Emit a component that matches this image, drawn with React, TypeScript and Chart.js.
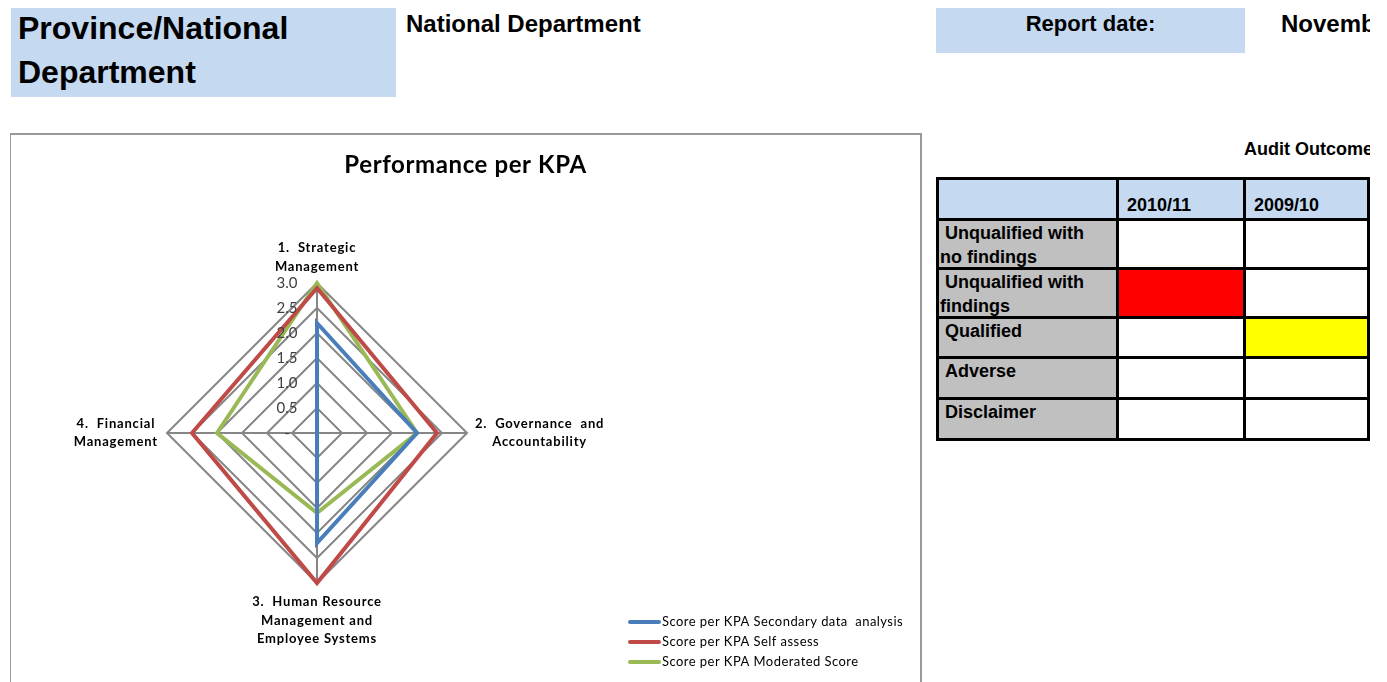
import React, { useEffect, useRef } from "react";
import { Chart, registerables } from "chart.js";

Chart.register(...registerables);

// ---------- data ----------
const chartTitle = "Performance per KPA";
const kpaLabels: string[][] = [
  ["1.  Strategic", "Management"],
  ["2.  Governance  and", "Accountability"],
  ["3.  Human Resource", "Management and", "Employee Systems"],
  ["4.  Financial", "Management"],
];
const secondaryScores = [2.2, 2.0, 2.2, 0];
const selfAssessScores = [2.9, 2.4, 3.0, 2.5];
const moderatedScores = [3.0, 2.0, 1.6, 2.0];
const seriesNames = [
  "Score per KPA Secondary data  analysis",
  "Score per KPA Self assess",
  "Score per KPA Moderated Score",
];
const seriesColors = ["#4a7ebb", "#be4b48", "#98b954"];
const scaleMin = 0;
const scaleMax = 3;
const scaleStep = 0.5;

const auditOutcomes = [
  ["\u00a0Unqualified with", "no findings"],
  ["\u00a0Unqualified with", "findings"],
  ["\u00a0Qualified"],
  ["\u00a0Adverse"],
  ["\u00a0Disclaimer"],
];
const auditYears = ["2010/11", "2009/10"];
const audit2010Colors = ["#ffffff", "#ff0000", "#ffffff", "#ffffff", "#ffffff"];
const audit2009Colors = ["#ffffff", "#ffffff", "#ffff00", "#ffffff", "#ffffff"];

const tickFormat = (v: number) => (v === 0 ? "-" : v.toFixed(1));

const CHART_FONT = "Lato, 'Open Sans', sans-serif";

const setSpacing = (ctx: any, px: number) => {
  if ("letterSpacing" in ctx) ctx.letterSpacing = px + "px";
};

const decorPlugin = {
  id: "excelDecor",
  afterDraw(chart: any) {
    const ctx = chart.ctx as CanvasRenderingContext2D;
    const r = chart.scales.r;
    ctx.save();
    // title
    ctx.fillStyle = "#000000";
    ctx.font = `bold 24px ${CHART_FONT}`;
    setSpacing(ctx, 0.6);
    ctx.textAlign = "center";
    ctx.textBaseline = "middle";
    ctx.fillText(chartTitle, chart.width / 2, 30);

    // tick labels
    ctx.font = `15px ${CHART_FONT}`;
    setSpacing(ctx, 0);
    ctx.fillStyle = "#404040";
    r.ticks.forEach((t: any) => {
      const p = r.getPointPositionForValue(0, t.value);
      ctx.fillText(tickFormat(t.value), r.xCenter - 30, p.y);
    });

    // point labels
    ctx.font = `bold 13px ${CHART_FONT}`;
    setSpacing(ctx, 0.8);
    ctx.fillStyle = "#000000";
    const lh = 18.5;
    kpaLabels.forEach((lines, i) => {
      const n = lines.length;
      const maxW = Math.max(...lines.map((l) => ctx.measureText(l).width));
      if (i === 0) {
        const p = r.getPointPosition(i, r.drawingArea + 7);
        lines.forEach((l, k) => ctx.fillText(l, p.x, p.y - (n - 1 - k) * lh - lh / 2));
      } else if (i === 1) {
        const p = r.getPointPosition(i, r.drawingArea + 8);
        lines.forEach((l, k) => ctx.fillText(l, p.x + maxW / 2, p.y - ((n - 1) * lh) / 2 + k * lh));
      } else if (i === 2) {
        const p = r.getPointPosition(i, r.drawingArea + 10);
        lines.forEach((l, k) => ctx.fillText(l, p.x, p.y + lh / 2 + k * lh));
      } else {
        const p = r.getPointPosition(i, r.drawingArea + 9);
        lines.forEach((l, k) => ctx.fillText(l, p.x - maxW / 2, p.y - ((n - 1) * lh) / 2 + k * lh));
      }
    });

    // legend
    ctx.font = `13px ${CHART_FONT}`;
    setSpacing(ctx, 0.45);
    ctx.textAlign = "left";
    chart.data.datasets.forEach((ds: any, i: number) => {
      const y = 487 + i * 20;
      ctx.strokeStyle = ds.borderColor;
      ctx.lineWidth = 4;
      ctx.lineCap = "round";
      ctx.beginPath();
      ctx.moveTo(619, y);
      ctx.lineTo(648, y);
      ctx.stroke();
      ctx.fillStyle = "#000000";
      ctx.fillText(ds.label, 651, y);
    });
    ctx.restore();
  },
};

function RadarChart() {
  const ref = useRef<HTMLCanvasElement | null>(null);
  useEffect(() => {
    if (!ref.current) return;
    const chart = new Chart(ref.current, {
      type: "radar",
      data: {
        labels: kpaLabels,
        datasets: [
          { label: seriesNames[0], data: secondaryScores, borderColor: seriesColors[0] },
          { label: seriesNames[1], data: selfAssessScores, borderColor: seriesColors[1] },
          { label: seriesNames[2], data: moderatedScores, borderColor: seriesColors[2] },
        ].map((d) => ({
          ...d,
          fill: false,
          borderWidth: 4,
          borderJoinStyle: "miter" as const,
          pointRadius: 0,
          pointHoverRadius: 0,
          tension: 0,
        })),
      },
      options: {
        responsive: false,
        animation: false,
        layout: { padding: { left: 156, top: 148, right: 453, bottom: 99 } },
        plugins: { legend: { display: false }, title: { display: false }, tooltip: { enabled: false } },
        scales: {
          r: {
            min: scaleMin,
            max: scaleMax,
            ticks: { stepSize: scaleStep, display: false, callback: (v: any) => tickFormat(Number(v)) },
            pointLabels: { display: false },
            grid: { color: "#868686", lineWidth: 2, circular: false },
            angleLines: { color: "#868686", lineWidth: 2 },
          },
        },
      },
      plugins: [decorPlugin],
    });
    return () => chart.destroy();
  }, []);
  return <canvas ref={ref} width={909} height={547} style={{ position: "absolute", left: 11, top: 135, width: 909, height: 547 }} />;
}

const ARIAL = "'Liberation Sans', Arial, sans-serif";

export default function App() {
  const rowHeights = [38, 46, 46, 37, 38, 38];
  return (
    <div style={{ position: "fixed", left: 0, top: 0, width: 1370, height: 682, overflow: "hidden", background: "#fff", fontFamily: ARIAL, color: "#000" }}>
      <div style={{ position: "absolute", left: 11, top: 8, width: 385, height: 89, background: "#c5d9f1" }} />
      <div style={{ position: "absolute", left: 18, top: 6, fontSize: 32, fontWeight: "bold", lineHeight: "44px", whiteSpace: "nowrap" }}>
        Province/National<br />Department
      </div>
      <div style={{ position: "absolute", left: 406, top: 10, fontSize: 24, fontWeight: "bold", lineHeight: "28px", whiteSpace: "nowrap" }}>National Department</div>
      <div style={{ position: "absolute", left: 936, top: 8, width: 309, height: 45, background: "#c5d9f1", textAlign: "center", fontSize: 22, fontWeight: "bold", lineHeight: "32px" }}>Report date:</div>
      <div style={{ position: "absolute", left: 1281, top: 10, fontSize: 24, fontWeight: "bold", lineHeight: "28px", whiteSpace: "nowrap" }}>November 2011</div>

      <div style={{ position: "absolute", left: 10, top: 133, width: 912, height: 600, boxSizing: "border-box", borderTop: "2px solid #9a9a9a", borderLeft: "1px solid #9a9a9a", borderRight: "2px solid #9a9a9a" }} />
      <RadarChart />

      <div style={{ position: "absolute", left: 1244, top: 138, fontSize: 18, fontWeight: "bold", lineHeight: "22px", whiteSpace: "nowrap" }}>Audit Outcomes</div>
      <div
        style={{
          position: "absolute",
          left: 936,
          top: 177,
          width: 434,
          height: 264,
          boxSizing: "border-box",
          background: "#000",
          padding: 3,
          display: "grid",
          gridTemplateColumns: "177px 124px 121px",
          gridTemplateRows: rowHeights.map((h) => h + "px").join(" "),
          gap: 3,
          fontSize: 18,
          fontWeight: "bold",
          lineHeight: "24px",
        }}
      >
        <div style={{ background: "#c5d9f1" }} />
        {auditYears.map((y) => (
          <div key={y} style={{ background: "#c5d9f1", display: "flex", alignItems: "flex-end", padding: "0 0 1px 8px" }}>{y}</div>
        ))}
        {auditOutcomes.map((lines, i) => (
          <React.Fragment key={i}>
            <div style={{ background: "#c0c0c0", paddingLeft: 1, whiteSpace: "nowrap" }}>
              {lines.map((l, k) => (
                <div key={k}>{l}</div>
              ))}
            </div>
            <div style={{ background: audit2010Colors[i] }} />
            <div style={{ background: audit2009Colors[i] }} />
          </React.Fragment>
        ))}
      </div>
    </div>
  );
}
